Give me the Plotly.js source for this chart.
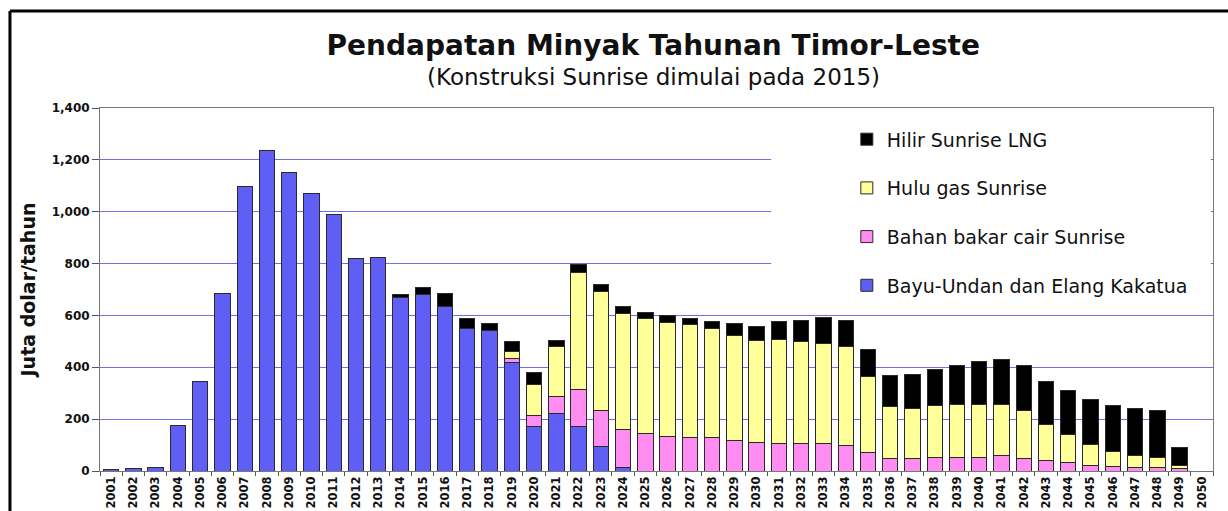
<!DOCTYPE html>
<html>
<head>
<meta charset="utf-8">
<script src="https://cdn.plot.ly/plotly-3.0.1.min.js"></script>
<style>html,body{margin:0;padding:0;background:#fff;}#chart{width:1228px;height:511px;}</style>
</head>
<body>
<div id="chart"></div>
<script>
const years = [];
for (let y = 2001; y <= 2050; y++) years.push(String(y));

const seriesNames = ["Bayu-Undan dan Elang Kakatua", "Bahan bakar cair Sunrise", "Hulu gas Sunrise", "Hilir Sunrise LNG"];

const bayuUndan = [5,10,14,176,346,685,1096,1236,1152,1070,989,820,823,668,679,636,551,543,419,170,222,173,93,15,
  0,0,0,0,0,0,0,0,0,0,0,0,0,0,0,0,0,0,0,0,0,0,0,0,0,0];
const bahanBakarCair = [0,0,0,0,0,0,0,0,0,0,0,0,0,0,0,0,0,0,15,44,64,141,141,145,
  143,135,131,129,119,111,108,106,106,100,70,47,50,54,54,54,58,50,41,34,23,18,15,15,10,0];
const huluGas = [0,0,0,0,0,0,0,0,0,0,0,0,0,0,0,0,0,0,28,120,194,453,459,448,
  445,437,433,422,405,393,398,392,386,380,293,203,192,199,202,202,198,183,137,107,79,59,44,37,12,0];
const hilirLNG = [0,0,0,0,0,0,0,0,0,0,0,0,0,13,28,49,38,24,39,46,25,30,27,26,
  23,28,26,25,44,52,70,83,99,101,106,120,132,140,150,165,173,173,167,171,172,177,183,182,67,0];

const colors = ["#5f5ff5", "#ff8cf0", "#ffff99", "#000000"];
const values = [bayuUndan, bahanBakarCair, huluGas, hilirLNG];

const traces = values.map((v, i) => ({
  type: "bar",
  name: seriesNames[i],
  x: years,
  y: v,
  legendgroup: "g" + i,
  legendrank: 1000 - i,
  marker: {color: colors[i], line: {color: "#2a2a2a", width: 1}},
  hoverinfo: "x+y+name"
}));

const layout = {
  width: 1228, height: 511,
  paper_bgcolor: "#ffffff", plot_bgcolor: "#ffffff",
  margin: {l: 100, r: 15, t: 108, b: 40},
  barmode: "stack",
  bargap: 0.31,
  showlegend: true,
  title: {
    text: "<b>Pendapatan Minyak Tahunan Timor-Leste</b>",
    font: {family: "DejaVu Sans", size: 28, color: "#111"},
    x: 0.532, xanchor: "center", xref: "container",
    y: 0.912, yanchor: "middle", yref: "container"
  },
  annotations: [{
    text: "(Konstruksi Sunrise dimulai pada 2015)",
    xref: "paper", yref: "paper", x: 0.497, y: 1.085,
    xanchor: "center", yanchor: "middle", showarrow: false,
    font: {family: "DejaVu Sans", size: 23, color: "#111"}
  }],
  legend: {
    x: 0.671, xanchor: "left", y: 0.966, yanchor: "top",
    bgcolor: "rgba(0,0,0,0)", borderwidth: 0,
    traceorder: "grouped", tracegroupgap: 21,
    font: {family: "DejaVu Sans", size: 19, color: "#111"}
  },
  xaxis: {
    type: "category",
    tickangle: -90,
    tickfont: {family: "DejaVu Sans", size: 11.5, color: "#111", weight: "bold"},
    ticks: "outside", ticklen: 4, tickcolor: "#555", tickson: "boundaries",
    showline: true, linecolor: "#777", linewidth: 1, mirror: true,
    showgrid: false
  },
  yaxis: {
    range: [0, 1400], dtick: 200, tickformat: ",d",
    tickfont: {family: "DejaVu Sans", size: 12, color: "#111", weight: "bold"},
    ticks: "outside", ticklen: 7, tickcolor: "#555",
    showline: true, linecolor: "#777", linewidth: 1, mirror: true,
    showgrid: true, gridcolor: "#6f6fe6", gridwidth: 1,
    zeroline: false,
    title: {text: "<b>Juta dolar/tahun</b>", font: {family: "DejaVu Sans", size: 19, color: "#111"}, standoff: 10}
  },
  shapes: [
    {type: "rect", xref: "paper", yref: "y", x0: 0.603, x1: 0.998, y0: 640, y1: 1395,
     fillcolor: "#ffffff", line: {width: 0}, layer: "above"},
    {type: "line", xref: "paper", yref: "paper", x0: -0.0809, x1: -0.0809, y0: -0.13, y1: 1.2672,
     line: {color: "#000", width: 3}},
    {type: "line", xref: "paper", yref: "paper", x0: -0.0809, x1: 1.02, y0: 1.2672, y1: 1.2672,
     line: {color: "#000", width: 3}}
  ]
};

Plotly.newPlot("chart", traces, layout, {displayModeBar: false, staticPlot: true});
</script>
</body>
</html>
